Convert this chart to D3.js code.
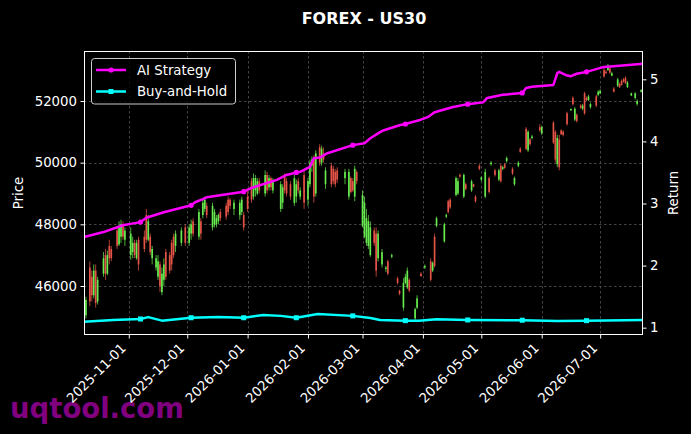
<!DOCTYPE html>
<html><head><meta charset="utf-8">
<script src="https://cdn.jsdelivr.net/npm/d3@7"></script>
<style>body{margin:0;background:#000;} svg{display:block;}</style>
</head><body><svg id="c" width="691" height="434"></svg>
<script>
// ---------- DATA ----------
const chartTitle = "FOREX - US30";
const seriesNames = ["AI Strategy", "Buy-and-Hold"];
const priceTicks = [46000, 48000, 50000, 52000];
const returnTicks = [1, 2, 3, 4, 5];
const monthTicks = ["2025-11-01","2025-12-01","2026-01-01","2026-02-01","2026-03-01","2026-04-01","2026-05-01","2026-06-01","2026-07-01"];

const candleDates = [
"2025-10-10","2025-10-12","2025-10-13","2025-10-14","2025-10-15","2025-10-16","2025-10-19","2025-10-20","2025-10-21","2025-10-22",
"2025-10-23","2025-10-26","2025-10-27","2025-10-28","2025-10-29","2025-10-30","2025-11-02","2025-11-03","2025-11-04","2025-11-05",
"2025-11-06","2025-11-09","2025-11-10","2025-11-11","2025-11-12","2025-11-13","2025-11-15","2025-11-16","2025-11-17","2025-11-18",
"2025-11-19","2025-11-20","2025-11-22","2025-11-23","2025-11-24","2025-11-25","2025-11-28","2025-11-30","2025-12-02","2025-12-03",
"2025-12-04","2025-12-07","2025-12-08","2025-12-09","2025-12-10","2025-12-11","2025-12-14","2025-12-15","2025-12-16","2025-12-17",
"2025-12-18","2025-12-21","2025-12-22","2025-12-23","2025-12-25","2025-12-28","2025-12-29","2025-12-30","2026-01-01","2026-01-03",
"2026-01-04","2026-01-05","2026-01-06","2026-01-07","2026-01-10","2026-01-11","2026-01-12","2026-01-13","2026-01-14","2026-01-18",
"2026-01-19","2026-01-20","2026-01-21","2026-01-23","2026-01-25","2026-01-26","2026-01-27","2026-01-28","2026-01-30","2026-02-01",
"2026-02-02","2026-02-03","2026-02-04","2026-02-05","2026-02-07","2026-02-08","2026-02-09","2026-02-10","2026-02-13","2026-02-14",
"2026-02-15","2026-02-16","2026-02-20","2026-02-22","2026-02-23","2026-02-24","2026-02-25","2026-02-26","2026-03-01","2026-03-02",
"2026-03-03","2026-03-04","2026-03-05","2026-03-07","2026-03-08","2026-03-09","2026-03-11","2026-03-13","2026-03-14","2026-03-16",
"2026-03-19","2026-03-20","2026-03-22","2026-03-23","2026-03-24","2026-03-25","2026-03-28","2026-03-29","2026-03-31","2026-04-02",
"2026-04-05","2026-04-06","2026-04-07","2026-04-08","2026-04-12","2026-04-13","2026-04-14","2026-04-15","2026-04-18","2026-04-19",
"2026-04-20","2026-04-22","2026-04-23","2026-04-26","2026-04-27","2026-04-28","2026-04-30","2026-05-01","2026-05-03","2026-05-05",
"2026-05-06","2026-05-08","2026-05-10","2026-05-11","2026-05-12","2026-05-13","2026-05-14","2026-05-17","2026-05-18","2026-05-20",
"2026-05-21","2026-05-24","2026-05-25","2026-05-26","2026-05-27","2026-05-31","2026-06-01","2026-06-07","2026-06-08","2026-06-09",
"2026-06-10","2026-06-11","2026-06-12","2026-06-14","2026-06-16","2026-06-17","2026-06-18","2026-06-19","2026-06-21","2026-06-22",
"2026-06-23","2026-06-24","2026-06-25","2026-06-26","2026-06-29","2026-06-30","2026-07-01","2026-07-03","2026-07-04","2026-07-05",
"2026-07-06","2026-07-07","2026-07-08","2026-07-10","2026-07-11","2026-07-12","2026-07-13","2026-07-14","2026-07-15","2026-07-17",
"2026-07-19","2026-07-20","2026-07-22"];

const openPrices = [
45050,46600,46300,45700,46500,45500,46400,47000,46400,47300,
47200,47800,47350,47600,48000,47500,47000,47100,47400,46900,
47500,47600,48300,47500,47600,46900,46600,46300,46700,45800,
46200,47100,47000,47400,47600,47300,47400,47900,47400,47700,
48100,47600,48100,48300,48500,48600,47900,48000,48000,48100,
48400,48600,48800,48800,48500,48300,48400,48300,48900,49400,
48900,49100,49000,49400,49000,49600,49200,49500,49100,48500,
48700,49600,49400,49300,48700,48900,49400,48900,49600,48800,
49300,49900,50100,49000,50500,50000,50300,49300,49900,49800,
49700,49750,49500,48900,49500,49400,48900,49700,47950,47600,
47400,47300,47000,47800,47700,46900,46700,46550,46800,46950,
46250,45850,45300,46100,45950,46200,44950,45300,46400,46600,
46800,46500,47600,47950,47450,48250,48750,48800,48950,49000,
49600,48900,49300,49100,49300,48900,49900,49450,48900,49500,
49950,49750,49450,49900,49800,49950,50050,49800,49300,49900,
50450,51100,50400,50750,50800,51150,50950,51300,51000,49950,
50750,51050,51000,51600,51700,52100,51400,51550,51850,51750,
52250,52100,52030,51800,52150,52200,52250,53000,52950,53000,
53050,52820,52400,52500,52550,52650,52700,52750,52450,52180,
52100,51900,52300];

const highPrices = [
45650,46800,46500,46700,46700,46300,47100,47200,47150,47500,
47300,47900,48100,48150,48100,47900,47900,47600,47500,47500,
47600,47800,48500,48300,47700,47300,47000,47000,46800,46600,
46900,47200,47100,47500,47700,47800,47900,48000,48000,48150,
48200,48500,48200,48850,48900,48700,48700,48500,48300,48350,
48500,48700,48900,48850,48800,48800,48900,48400,49100,49500,
49650,49600,49500,49500,49750,49700,49600,49550,49500,49400,
49300,49650,49500,49400,49600,49450,49500,49200,49800,49500,
50100,50200,50250,50400,50600,50550,50500,49850,50000,49900,
49800,49850,49800,49800,49550,49500,49900,49750,49100,48900,
48500,48300,48100,47900,47900,47800,47200,46650,46850,47050,
46300,45880,46250,46400,46600,46250,45300,45700,46450,46700,
46900,46800,47700,48250,48050,48350,48800,48850,49550,49500,
49650,49650,49350,49450,49320,48950,49950,49550,49800,49550,
50050,49800,49800,49950,49900,49980,50200,49850,49550,50050,
50500,51150,51050,50800,50900,51250,51200,51350,51050,50900,
50900,51080,51050,51650,51760,52150,51800,51600,51900,51900,
52300,52150,52200,51950,52200,52350,52380,53100,53000,53200,
53100,52950,52450,52750,52600,52700,52750,52800,52650,52270,
52280,52050,52380];

const lowPrices = [
44950,45350,45500,45600,45300,45400,46300,46200,46350,46700,
46800,47200,47300,47400,47500,47300,46850,46900,46900,46850,
46500,47100,47400,47450,47000,46700,46500,46200,45800,45700,
46000,46200,46400,46500,46900,47100,47300,47300,47300,47500,
47600,47500,47500,48200,48400,48200,47800,47900,47900,48000,
48100,48150,48300,48500,48300,48150,48300,47800,48400,48700,
48800,48900,48950,49000,48900,49000,49100,49100,49000,48400,
48500,49000,48900,48800,48600,48700,49000,48800,48500,48600,
49200,49700,48700,48900,49900,49900,50000,49150,49200,49300,
49200,49350,49300,48800,49000,49050,48750,49300,47900,47550,
47300,47200,46950,47300,46300,46800,46600,46450,46350,46900,
46050,45700,45200,46050,45900,45800,44850,45250,46300,46550,
46150,46450,46600,47900,47400,48200,48350,48500,48900,48950,
49500,48850,49100,49050,49200,48700,49750,49400,48850,49000,
49900,49550,49400,49350,49750,49800,50000,49600,49250,49850,
50320,50400,50350,50550,50750,51000,50900,50600,50000,49850,
49750,50900,50850,51200,51680,51850,51350,51300,51750,51700,
51550,52000,52000,51750,51800,52150,52220,52750,52880,52980,
52880,52800,52280,52450,52420,52500,52600,52550,52420,52160,
52050,51850,52280];

const closePrices = [
45550,45500,45700,46500,45450,46200,46900,46400,47000,46900,
46900,47300,47950,48000,47600,47800,47700,47400,47000,47400,
46700,47200,47500,48100,47100,47200,46900,46800,46000,46400,
46700,46300,46500,46700,47000,47700,47800,47400,47900,48000,
47700,48400,47700,48700,48800,48300,48600,48400,48200,48300,
48200,48250,48400,48600,48700,48700,48800,47900,48500,48800,
49500,49500,49400,49100,49600,49100,49500,49200,49400,49300,
49200,49100,49000,48900,49500,49300,49100,49100,48700,49400,
50000,50100,48900,50300,50000,50450,50100,49750,49300,49400,
49300,49450,49700,49700,49050,49100,49800,49400,48950,48700,
48200,48100,47900,47400,46500,47700,47100,46600,46400,47000,
46100,45750,46100,46300,46500,45850,45250,45600,46320,46650,
46200,46750,46650,48200,48000,48300,48400,48550,49500,49400,
49550,49600,49150,49400,49220,48750,49800,49520,49700,49050,
50000,49600,49750,49400,49850,49830,50150,49650,49500,50000,
50350,50450,51000,50600,50850,51050,51150,50650,50100,50800,
49850,50920,50900,51250,51740,51900,51750,51350,51780,51850,
51600,52030,52150,51900,51850,52300,52330,52800,52900,53150,
52920,52900,52300,52700,52450,52520,52620,52580,52600,52250,
52250,52000,52350];

const aiDates = ["2025-10-09","2025-10-19","2025-10-29","2025-11-07","2025-11-10","2025-11-19","2025-11-29","2025-12-03","2025-12-05","2025-12-09","2025-12-11","2025-12-30",
"2026-01-03","2026-01-16","2026-01-21","2026-01-26","2026-01-28","2026-02-02","2026-02-04","2026-02-07","2026-02-11","2026-02-24",
"2026-03-02","2026-03-05","2026-03-10","2026-03-12","2026-03-20","2026-03-23","2026-03-30","2026-04-04","2026-04-07","2026-04-16","2026-04-24",
"2026-05-02","2026-05-04","2026-05-12","2026-05-22","2026-05-24","2026-05-27","2026-06-07","2026-06-09","2026-06-10","2026-06-14","2026-06-16",
"2026-06-19","2026-06-24","2026-07-03","2026-07-11","2026-07-23"];
const aiReturns = [2.46,2.54,2.65,2.70,2.77,2.86,2.94,2.97,3.02,3.07,3.10,3.19,
3.25,3.38,3.46,3.50,3.51,3.59,3.73,3.74,3.81,3.94,
3.97,4.05,4.15,4.18,4.26,4.28,4.34,4.40,4.47,4.55,4.60,
4.63,4.70,4.75,4.78,4.86,4.88,4.91,5.10,5.12,5.06,5.05,
5.09,5.12,5.20,5.22,5.25];

const bhDates = ["2025-10-09","2025-10-24","2025-11-07","2025-11-11","2025-11-18","2025-12-03","2025-12-17","2025-12-30","2026-01-09","2026-01-18","2026-01-26",
"2026-02-06","2026-02-24","2026-03-05","2026-03-10","2026-03-23","2026-03-30","2026-04-08","2026-04-24","2026-05-22","2026-06-09","2026-06-24","2026-07-23"];
const bhReturns = [1.097,1.124,1.14,1.17,1.113,1.16,1.17,1.16,1.205,1.19,1.16,
1.22,1.19,1.156,1.124,1.113,1.113,1.135,1.124,1.12,1.108,1.113,1.124];

const markerDates = ["2025-11-07","2025-12-03","2025-12-30","2026-01-26","2026-02-24","2026-03-23","2026-04-24","2026-05-22","2026-06-24"];

const watermark = "uqtool.com";

// ---------- CHART ----------
const FONT = "DejaVu Sans, Verdana, sans-serif";
const L = 84, R = 643, T = 51, B = 335;
const svg = d3.select("#c");
svg.append("rect").attr("width", 691).attr("height", 434).attr("fill", "#000");

const parse = d3.utcParse("%Y-%m-%d");
const x = d3.scaleUtc().domain([parse(aiDates[0]), parse(aiDates[aiDates.length - 1])]).range([L, R]);
const yP = d3.scaleLinear().domain([44411, 53621]).range([B, T]);
const yR = d3.scaleLinear().domain([0.882, 5.456]).range([B, T]);

// watermark (under everything else)
svg.append("text").attr("x", 10).attr("y", 418).attr("fill", "#800080")
  .attr("font-family", FONT).attr("font-weight", "bold").attr("font-size", 27.5)
  .text(watermark);

svg.append("defs").append("clipPath").attr("id", "clip")
  .append("rect").attr("x", L).attr("y", T).attr("width", R - L).attr("height", B - T);

// grid
const grid = svg.append("g").attr("stroke", "#555").attr("stroke-width", 0.8).attr("stroke-dasharray", "2.5,2.5");
monthTicks.forEach(d => {
  const xx = Math.round(x(parse(d))) + 0.5;
  grid.append("line").attr("x1", xx).attr("x2", xx).attr("y1", T).attr("y2", B);
});
priceTicks.forEach(v => {
  const yy = Math.round(yP(v)) + 0.5;
  grid.append("line").attr("x1", L).attr("x2", R).attr("y1", yy).attr("y2", yy);
});

const plot = svg.append("g").attr("clip-path", "url(#clip)");

// candles
const UP = "#6cf552", DN = "#f0584a";
const cg = plot.append("g");
candleDates.forEach((d, i) => {
  const cx = x(parse(d));
  const o = openPrices[i], h = highPrices[i], l = lowPrices[i], c = closePrices[i];
  const col = c >= o ? UP : DN;
  cg.append("line").attr("x1", cx).attr("x2", cx).attr("y1", yP(h)).attr("y2", yP(l))
    .attr("stroke", col).attr("stroke-width", 0.8).attr("opacity", 0.9);
  const y1 = yP(Math.max(o, c)), y2 = yP(Math.min(o, c));
  cg.append("rect").attr("x", cx - 0.85).attr("width", 1.7).attr("y", y1).attr("height", Math.max(1, y2 - y1))
    .attr("fill", col).attr("opacity", 0.9);
});

// return lines
const aiPts = aiDates.map((d, i) => [parse(d), aiReturns[i]]);
const bhPts = bhDates.map((d, i) => [parse(d), bhReturns[i]]);
const line = d3.line().x(p => x(p[0])).y(p => yR(p[1]));
plot.append("path").attr("d", line(bhPts)).attr("fill", "none").attr("stroke", "#00ffff").attr("stroke-width", 2.5).attr("stroke-linejoin", "round");
plot.append("path").attr("d", line(aiPts)).attr("fill", "none").attr("stroke", "#ff00ff").attr("stroke-width", 2.5).attr("stroke-linejoin", "round");

markerDates.forEach(d => {
  const bi = bhDates.indexOf(d), ai = aiDates.indexOf(d);
  if (bi >= 0) plot.append("rect").attr("x", x(parse(d)) - 2.5).attr("y", yR(bhReturns[bi]) - 2.5)
      .attr("width", 5).attr("height", 5).attr("fill", "#00ffff");
  if (ai >= 0) plot.append("circle").attr("cx", x(parse(d))).attr("cy", yR(aiReturns[ai])).attr("r", 2.6)
      .attr("fill", "#ff00ff");
});

// spines
svg.append("rect").attr("x", L + 0.5).attr("y", T + 0.5).attr("width", R - L - 1).attr("height", B - T - 1)
  .attr("fill", "none").attr("stroke", "#fff").attr("stroke-width", 1);

function styleAxis(g) {
  g.select(".domain").remove();
  g.selectAll(".tick line").attr("stroke", "#fff");
  g.selectAll(".tick text").attr("fill", "#fff").attr("font-family", FONT).attr("font-size", 13.3);
}
const axL = svg.append("g").attr("transform", `translate(${L},0)`)
  .call(d3.axisLeft(yP).tickValues(priceTicks).tickFormat(d3.format("d")).tickSize(3.5).tickPadding(3.5));
styleAxis(axL);
const axR = svg.append("g").attr("transform", `translate(${R},0)`)
  .call(d3.axisRight(yR).tickValues(returnTicks).tickFormat(d3.format("d")).tickSize(3.5).tickPadding(3.5));
styleAxis(axR);
const axB = svg.append("g").attr("transform", `translate(0,${B})`)
  .call(d3.axisBottom(x).tickValues(monthTicks.map(parse)).tickFormat(d3.utcFormat("%Y-%m-%d")).tickSize(3.5).tickPadding(3.5));
styleAxis(axB);
axB.selectAll(".tick text")
  .attr("text-anchor", "end").attr("dy", null).attr("y", 0).attr("x", 0)
  .attr("transform", "translate(-2.5,14) rotate(-45)");

// labels
svg.append("text").attr("x", 364).attr("y", 24).attr("text-anchor", "middle").attr("fill", "#fff")
  .attr("font-family", FONT).attr("font-weight", "bold").attr("font-size", 16).text(chartTitle);
svg.append("text").attr("transform", "translate(23,193) rotate(-90)").attr("text-anchor", "middle").attr("fill", "#fff")
  .attr("font-family", FONT).attr("font-size", 13.3).text("Price");
svg.append("text").attr("transform", "translate(678,193) rotate(-90)").attr("text-anchor", "middle").attr("fill", "#fff")
  .attr("font-family", FONT).attr("font-size", 13.3).text("Return");

// legend
const lg = svg.append("g");
lg.append("rect").attr("x", 91.5).attr("y", 58.5).attr("width", 144).attr("height", 45.5).attr("rx", 3)
  .attr("fill", "#000").attr("fill-opacity", 0.8).attr("stroke", "#ccc").attr("stroke-width", 1);
const legCols = ["#ff00ff", "#00ffff"];
seriesNames.forEach((n, i) => {
  const yy = 70 + i * 21.5;
  lg.append("line").attr("x1", 96).attr("x2", 126).attr("y1", yy).attr("y2", yy).attr("stroke", legCols[i]).attr("stroke-width", 2.5);
  if (i === 0) lg.append("circle").attr("cx", 111).attr("cy", yy).attr("r", 2.6).attr("fill", legCols[i]);
  else lg.append("rect").attr("x", 108.5).attr("y", yy - 2.5).attr("width", 5).attr("height", 5).attr("fill", legCols[i]);
  lg.append("text").attr("x", 137).attr("y", yy + 4.8).attr("fill", "#fff").attr("font-family", FONT).attr("font-size", 13.3).text(n);
});
</script></body></html>
